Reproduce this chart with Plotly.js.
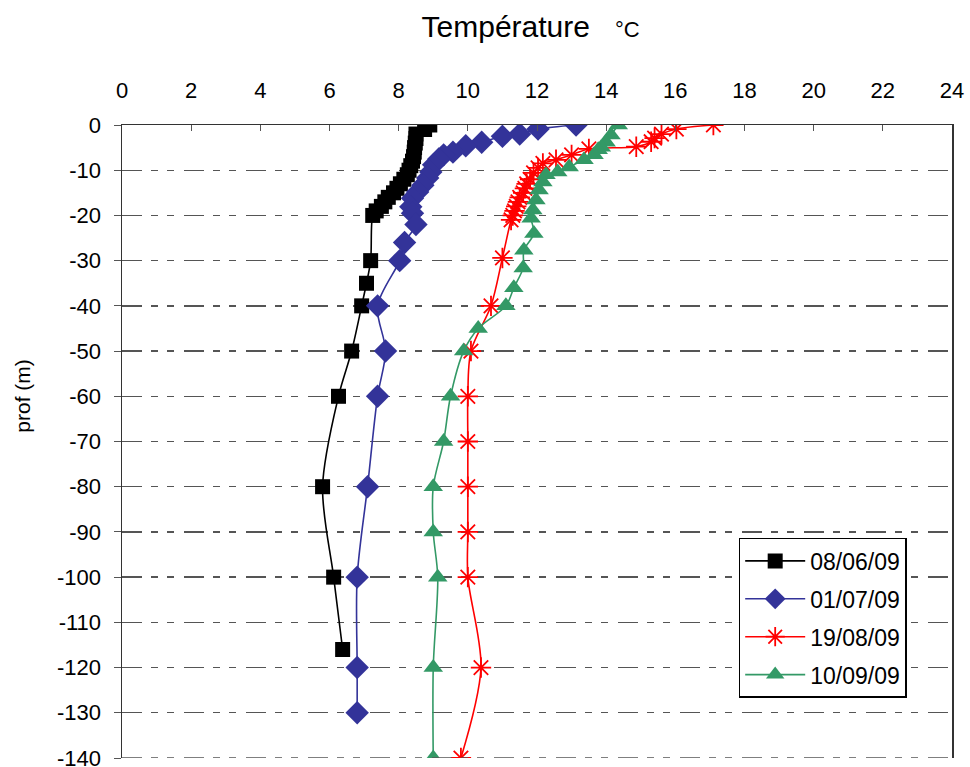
<!DOCTYPE html>
<html><head><meta charset="utf-8">
<script src="https://cdn.plot.ly/plotly-3.0.1.min.js"></script>
<style>body{margin:0;background:#fff}#chart{width:970px;height:767px}</style>
</head><body><div id="chart"></div>
<script>
const seriesNames = ["08/06/09", "01/07/09", "19/08/09", "10/09/09"];

const temp_080609 = [8.9, 8.75, 8.5, 8.5, 8.48, 8.46, 8.45, 8.43, 8.4, 8.35, 8.3, 8.25, 8.15, 8.05, 7.95, 7.85, 7.7, 7.6, 7.5, 7.35, 7.25, 7.19, 7.07, 6.93, 6.64, 6.26, 5.8, 6.12, 6.38];
const depth_080609 = [0, -1, -2, -3, -4, -5, -6, -7, -8, -9, -10, -11, -12, -13, -14, -15, -16, -17, -18, -19, -20, -30, -35, -40, -50, -60, -80, -100, -116];

const temp_010709 = [13.13, 12.03, 11.5, 11.0, 10.4, 9.94, 9.57, 9.3, 9.16, 9.01, 8.93, 8.84, 8.7, 8.55, 8.4, 8.35, 8.4, 8.5, 8.17, 8.03, 7.39, 7.62, 7.39, 7.1, 6.8, 6.8, 6.8];
const depth_010709 = [0, -0.9, -2, -2.5, -3.8, -4.6, -6, -6.6, -7.5, -8.8, -10.4, -11.7, -13.3, -14.8, -16.2, -18.1, -19.5, -22, -26, -30, -40, -50, -60, -80, -100, -120, -130];

const temp_190809 = [17.1, 16.03, 15.6, 15.4, 15.3, 14.87, 13.5, 13.0, 12.55, 12.17, 12.03, 11.9, 11.8, 11.7, 11.65, 11.6, 11.5, 11.45, 11.4, 11.35, 11.3, 11.25, 11.0, 10.67, 10.09, 10.0, 10.0, 10.0, 10.0, 10.0, 10.38, 9.8];
const depth_190809 = [0, -0.9, -2, -2.9, -3.7, -4.8, -5.3, -6.6, -7.7, -8.5, -9.5, -10.6, -12, -13, -14, -15, -16, -17, -18, -19, -20, -21, -29.4, -40, -50, -60, -70, -80, -90, -100, -120, -140];

const temp_100909 = [14.35, 14.14, 14.0, 13.86, 13.77, 13.65, 13.36, 12.93, 12.6, 12.26, 12.17, 12.06, 11.97, 11.88, 11.83, 11.91, 11.62, 11.6, 11.33, 11.1, 10.3, 9.88, 9.5, 9.3, 9.0, 9.0, 9.13, 9.0, 9.0];
const depth_100909 = [0, -2.2, -3.8, -4.9, -5.5, -6.6, -7.7, -9.3, -10.4, -11, -12.6, -14.4, -16.6, -18.8, -20.6, -24, -27.7, -31.6, -36, -40, -45, -50, -60, -70, -80, -90, -100, -120, -140];

const xTickVals = [0, 2, 4, 6, 8, 10, 12, 14, 16, 18, 20, 22, 24];
const yTickVals = [0, -10, -20, -30, -40, -50, -60, -70, -80, -90, -100, -110, -120, -130, -140];
const yTickText = ["0", "-10", "-20", "-30", "-40", "-50", "-60", "-70", "-80", "-90", "-100", "-110", "-120", "-130", "-140"];

const FONT = "Liberation Sans, Arial, sans-serif";
const sm = 0.9;
const traces = [
  {x: temp_080609, y: depth_080609, name: seriesNames[0], legendgroup: "a", mode: "lines+markers",
   line: {color: "#000000", width: 1.6, shape: "spline", smoothing: sm},
   marker: {symbol: "square", size: 15, color: "#000000"}},
  {x: temp_010709, y: depth_010709, name: seriesNames[1], legendgroup: "b", mode: "lines+markers",
   line: {color: "#333399", width: 1.6, shape: "spline", smoothing: sm},
   marker: {symbol: "diamond", size: 18, color: "#333399"}},
  {x: temp_190809, y: depth_190809, name: seriesNames[2], legendgroup: "c", mode: "lines+markers",
   line: {color: "#FF0000", width: 1.6, shape: "spline", smoothing: sm},
   marker: {symbol: "asterisk-open", size: 17, color: "#FF0000", line: {color: "#FF0000", width: 1.8}}},
  {x: temp_100909, y: depth_100909, name: seriesNames[3], legendgroup: "d", mode: "lines+markers",
   line: {color: "#339966", width: 1.6, shape: "spline", smoothing: sm},
   marker: {symbol: "triangle-up", size: 17, color: "#339966"}}
];

const layout = {
  width: 970, height: 767,
  margin: {l: 122, r: 18, t: 125, b: 9},
  paper_bgcolor: "#ffffff", plot_bgcolor: "#ffffff",
  font: {family: FONT, size: 22, color: "#000"},
  title: {text: "Température   <span style='font-size:22px'>°C</span>", font: {family: FONT, size: 30, color: "#000"},
          x: 0.547, xanchor: "center", y: 0.965, yanchor: "middle", xref: "container"},
  xaxis: {range: [0, 24], side: "top", tickvals: xTickVals, ticks: "inside", ticklen: 6, tickcolor: "#555",
          showline: true, linecolor: "#333", linewidth: 1.5, showgrid: false, zeroline: false,
          tickfont: {family: FONT, size: 22}, ticklabelstandoff: 17},
  yaxis: {range: [-140, 0], tickvals: yTickVals, ticktext: yTickText, ticks: "outside", ticklen: 7, tickcolor: "#555",
          showline: true, linecolor: "#333", linewidth: 1.5, mirror: true, zeroline: false,
          showgrid: true, gridcolor: "#555", gridwidth: 1.3, griddash: "20px,9px,7px,9px,7px,10px",
          tickfont: {family: FONT, size: 22}, ticklabelstandoff: 8, ticklabeloverflow: "allow"},
  legend: {x: 0.743, y: 0.3476, xanchor: "left", yanchor: "top", bgcolor: "#fff",
           bordercolor: "#000", borderwidth: 1.5, font: {family: FONT, size: 23},
           itemwidth: 60, traceorder: "grouped", tracegroupgap: 5},
  annotations: [{text: "prof (m)", xref: "paper", yref: "paper", x: -0.12, y: 0.573,
                 xanchor: "center", yanchor: "middle", textangle: -90, showarrow: false,
                 font: {family: FONT, size: 21, color: "#000"}}],
  shapes: [{type: "line", xref: "paper", yref: "y", x0: 0, x1: 1, y0: -140, y1: -140,
            line: {color: "#555", width: 1.5, dash: "20px,9px,7px,9px,7px,10px"}}],
  showlegend: true
};

Plotly.newPlot("chart", traces, layout, {displayModeBar: false, staticPlot: true});
</script></body></html>
